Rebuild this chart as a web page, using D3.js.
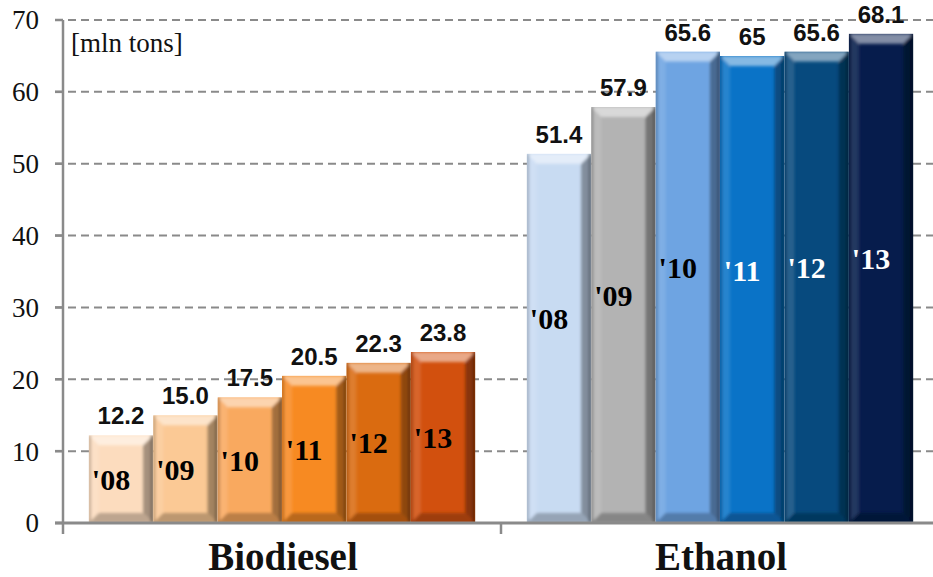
<!DOCTYPE html>
<html>
<head>
<meta charset="utf-8">
<script src="https://cdn.jsdelivr.net/npm/d3@7/dist/d3.min.js"></script>
<style>
  html, body { margin: 0; padding: 0; background: #fff; }
  svg { display: block; }
</style>
</head>
<body>
<svg id="chart" width="933" height="577"></svg>
<script>
// Fuel production, million tons
const categories = ["Biodiesel", "Ethanol"];
const years = ["'08", "'09", "'10", "'11", "'12", "'13"];
const biodiesel = [12.2, 15.0, 17.5, 20.5, 22.3, 23.8];
const ethanol = [51.4, 57.9, 65.6, 65, 65.6, 68.1];
const biodieselLabels = ["12.2", "15.0", "17.5", "20.5", "22.3", "23.8"];
const ethanolLabels = ["51.4", "57.9", "65.6", "65", "65.6", "68.1"];
const yTicks = [0, 10, 20, 30, 40, 50, 60, 70];
const unitLabel = "[mln tons]";

// Palettes
const biodieselColors = ["#FCDCBE", "#FBC995", "#F9A95F", "#F78A22", "#DA6B10", "#D2500E"];
const ethanolColors = ["#C8DBF2", "#B3B3B3", "#6EA4E2", "#0A73C7", "#074A7E", "#061C4C"];
const biodieselYearColors = ["#000", "#000", "#000", "#000", "#000", "#000"];
const ethanolYearColors = ["#000", "#000", "#000", "#fff", "#fff", "#fff"];

const series = [
  { name: categories[0], values: biodiesel, labels: biodieselLabels, colors: biodieselColors, yearColors: biodieselYearColors, yearShift: 0 },
  { name: categories[1], values: ethanol, labels: ethanolLabels, colors: ethanolColors, yearColors: ethanolYearColors, yearShift: 2.7 }
];

const svg = d3.select("#chart");
const axisColor = "#8a8a8a";
const serif = "'Liberation Serif', 'Times New Roman', serif";
const plotLeft = 63, plotRight = 939, plotTop = 20, plotBottom = 523;

const y = d3.scaleLinear().domain([0, 70]).range([plotBottom, plotTop]);
const x = d3.scaleBand().domain(categories).range([plotLeft, plotRight]).padding(0);
const xi = d3.scaleBand().domain(years).range([0, x.bandwidth()])
  .paddingInner(0).paddingOuter(0.4);

const defs = svg.append("defs");
const soft = defs.append("filter").attr("id", "soft")
  .attr("x", "-10%").attr("y", "-10%").attr("width", "120%").attr("height", "120%");
soft.append("feGaussianBlur").attr("stdDeviation", 1.6);

// Dashed gridlines
svg.append("g").selectAll("line").data(yTicks.filter(d => d > 0)).join("line")
  .attr("x1", 55).attr("x2", 933)
  .attr("y1", d => y(d)).attr("y2", d => y(d))
  .attr("stroke", axisColor).attr("stroke-width", 2)
  .attr("stroke-dasharray", "8,5");

// Y tick labels
svg.append("g").selectAll("text").data(yTicks).join("text")
  .attr("x", 39).attr("y", d => y(d))
  .attr("dy", "0.35em")
  .attr("text-anchor", "end")
  .attr("font-family", serif)
  .attr("font-size", 27)
  .attr("fill", "#111")
  .text(d => d);

svg.append("text")
  .attr("x", 71).attr("y", 52)
  .attr("font-family", serif)
  .attr("font-size", 27)
  .attr("fill", "#111")
  .text(unitLabel);

// Bars with bevelled edges
const mix = (c, t, k) => d3.interpolateRgb(c, t)(k);
let clipId = 0;
series.forEach(s => {
  const g = svg.append("g").attr("transform", `translate(${x(s.name)},0)`);
  s.values.forEach((v, i) => {
    const x0 = xi(years[i]), x1 = x0 + xi.bandwidth();
    const t = y(v), b = y(0);
    const c = s.colors[i];
    const bev = 10;
    const id = "clip" + (clipId++);
    defs.append("clipPath").attr("id", id)
      .append("rect").attr("x", x0).attr("y", t).attr("width", x1 - x0).attr("height", b - t);

    const bar = g.append("g").attr("clip-path", `url(#${id})`);
    bar.append("rect").attr("x", x0).attr("y", t)
      .attr("width", x1 - x0).attr("height", b - t).attr("fill", c);

    const bevel = bar.append("g").attr("filter", "url(#soft)");
    const poly = pts => pts.map(p => p.join(",")).join(" ");
    // left face
    bevel.append("polygon")
      .attr("points", poly([[x0, t], [x0 + bev, t + bev], [x0 + bev, b - bev], [x0, b]]))
      .attr("fill", mix(c, "#fff", 0.12));
    // right face
    bevel.append("polygon")
      .attr("points", poly([[x1, t], [x1 - bev, t + bev], [x1 - bev, b - bev], [x1, b]]))
      .attr("fill", mix(c, "#000", 0.35));
    // bottom face
    bevel.append("polygon")
      .attr("points", poly([[x0, b], [x0 + bev, b - bev], [x1 - bev, b - bev], [x1, b]]))
      .attr("fill", mix(c, "#000", 0.25));
    // top face
    bevel.append("polygon")
      .attr("points", poly([[x0, t], [x1, t], [x1 - bev, t + bev], [x0 + bev, t + bev]]))
      .attr("fill", mix(c, "#fff", 0.5));
    // thin edge lines
    bevel.append("line").attr("x1", x0 + 1).attr("x2", x0 + 1).attr("y1", t).attr("y2", b)
      .attr("stroke", mix(c, "#000", 0.3)).attr("stroke-width", 2);
    bevel.append("line").attr("x1", x1 - 1).attr("x2", x1 - 1).attr("y1", t).attr("y2", b)
      .attr("stroke", mix(c, "#000", 0.55)).attr("stroke-width", 3);

    // value label
    g.append("text")
      .attr("x", (x0 + x1) / 2).attr("y", t - 11)
      .attr("text-anchor", "middle")
      .attr("font-family", "'Liberation Sans', Arial, sans-serif")
      .attr("font-weight", "bold")
      .attr("font-size", 24)
      .attr("fill", "#111")
      .text(s.labels[i]);

    // year label inside bar
    g.append("text")
      .attr("x", (x0 + x1) / 2 - 10).attr("y", y(v / 2 + s.yearShift))
      .attr("dy", "0.35em")
      .attr("text-anchor", "middle")
      .attr("font-family", serif)
      .attr("font-weight", "bold")
      .attr("font-size", 30)
      .attr("fill", s.yearColors[i])
      .text(years[i]);
  });
});

// Axes
svg.append("line").attr("x1", plotLeft).attr("x2", plotLeft).attr("y1", plotTop).attr("y2", 534)
  .attr("stroke", axisColor).attr("stroke-width", 2.5);
svg.append("g").selectAll("line").data(yTicks).join("line")
  .attr("x1", 55).attr("x2", plotLeft).attr("y1", d => y(d)).attr("y2", d => y(d))
  .attr("stroke", axisColor).attr("stroke-width", 2.5);
svg.append("line").attr("x1", 55).attr("x2", 933).attr("y1", plotBottom).attr("y2", plotBottom)
  .attr("stroke", axisColor).attr("stroke-width", 3);
svg.append("line").attr("x1", x(categories[1])).attr("x2", x(categories[1]))
  .attr("y1", plotBottom).attr("y2", 534)
  .attr("stroke", axisColor).attr("stroke-width", 2.5);

// Category labels
svg.append("g").selectAll("text").data(categories).join("text")
  .attr("x", d => x(d) + x.bandwidth() / 2 + 1)
  .attr("y", 570)
  .attr("text-anchor", "middle")
  .attr("font-family", serif)
  .attr("font-weight", "bold")
  .attr("font-size", 39)
  .attr("fill", "#111")
  .text(d => d);
</script>
</body>
</html>
